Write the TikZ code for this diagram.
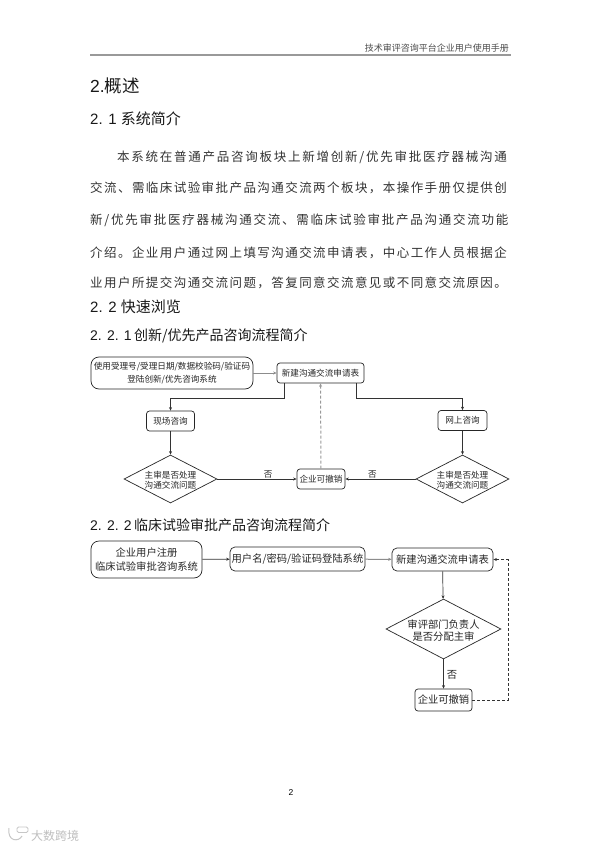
\documentclass[tikz,border=0pt]{standalone}
\usepackage{fontspec}
\usetikzlibrary{arrows.meta,shapes.geometric}
\setmainfont{Liberation Sans}
\newfontfamily\cjk{Noto Sans CJK SC}
\newcommand{\bodyline}[4]{\node[anchor=west,inner sep=0pt,text=black!80] (#1) at (#2) {\fontspec{Noto Sans CJK SC}[LetterSpace=#3]\fontsize{12.5}{14}\selectfont #4};}
\newcommand{\ztext}[3]{\makebox[0pt]{\smash{\raisebox{#1}{\begin{tabular}{@{}c@{}}#2\\#3\end{tabular}}}}}
\tikzset{
 x=1pt,y=-1pt,
 box/.style={draw=black!85,line width=.7pt,rounded corners=3pt,align=center,inner sep=0pt,font=\cjk\fontsize{8.6}{13}\selectfont,text=black!85},
 dia/.style={draw=black!85,line width=.7pt,diamond,inner sep=0pt,font=\cjk\fontsize{8.6}{13}\selectfont\renewcommand{\arraystretch}{.8},text=black!85},
 bigbox/.style={box,font=\cjk\fontsize{10.3}{14.5}\selectfont},
 bigdia/.style={dia,font=\cjk\fontsize{10.3}{12.5}\selectfont\renewcommand{\arraystretch}{.85},text=black!85},
 conn/.style={draw=black!80,line width=.7pt,-{Stealth[length=3.5pt,width=3pt]}},
 dconn/.style={conn,dash pattern=on 3pt off 2pt},
 lab/.style={inner sep=0pt,text=black!85},
 head/.style={anchor=west,inner sep=0pt,text=black!90},
}
\begin{document}
\begin{tikzpicture}
\useasboundingbox (0,0) rectangle (600,848);
\fill[white] (0,0) rectangle (600,848);
% header
\node[anchor=east,inner sep=0pt,text=black!70,font=\cjk\fontsize{9}{10}\selectfont] (hdr) at (509,48.5) {技术审评咨询平台企业用户使用手册};
\coordinate (rl) at (90,55.5); \coordinate (rr) at (511,55.5);
\draw[black!40,line width=2pt] (rl) -- (rr);
% headings
\node[head,font=\fontsize{17.5}{20}\selectfont] (h2) at (90,86) {2.{\cjk 概述}};
\node[head,font=\fontsize{15}{18}\selectfont] (h21) at (90,119) {2. 1 {\cjk 系统简介}};
\node[head,font=\fontsize{15}{18}\selectfont] (h22) at (90,307) {2. 2 {\cjk 快速浏览}};
\node[head,font=\fontsize{14}{18}\selectfont] (h221) at (90,336) {2. 2. 1\,{\cjk 创新/优先产品咨询流程简介}};
\node[head,font=\fontsize{14}{18}\selectfont] (h222) at (90,525) {2. 2. 2\,{\cjk 临床试验审批产品咨询流程简介}};
% body
\bodyline{l1}{117,157}{14}{本系统在普通产品咨询板块上新增创新/优先审批医疗器械沟通}
\bodyline{l2}{90,188}{11.5}{交流、需临床试验审批产品沟通交流两个板块，本操作手册仅提供创}
\bodyline{l3}{90,220}{14}{新/优先审批医疗器械沟通交流、需临床试验审批产品沟通交流功能}
\bodyline{l4}{90,253}{11.5}{介绍。企业用户通过网上填写沟通交流申请表，中心工作人员根据企}
\bodyline{l5}{90,283}{11.5}{业用户所提交沟通交流问题，答复同意交流意见或不同意交流原因。}
% diagram 1
\node[box,minimum width=162pt,minimum height=32pt,rounded corners=8pt] (a) at (172,373) {使用受理号/受理日期/数据校验码/验证码\\登陆创新/优先咨询系统};
\node[box,minimum width=87pt,minimum height=20pt] (b) at (320.5,373) {新建沟通交流申请表};
\node[box,minimum width=48pt,minimum height=20pt] (c) at (170.5,421) {现场咨询};
\node[box,minimum width=49pt,minimum height=20pt] (d) at (462.5,420.5) {网上咨询};
\node[dia,minimum width=93pt,minimum height=48pt,aspect=1.94] (e) at (170.5,479) {\ztext{-4.5pt}{主审是否处理}{沟通交流问题}};
\node[box,minimum width=48pt,minimum height=20pt] (f) at (321,479) {企业可撤销};
\node[dia,minimum width=93pt,minimum height=48pt,aspect=1.94] (g) at (462.5,479) {\ztext{-4.5pt}{主审是否处理}{沟通交流问题}};
\coordinate (bl) at (284,383); \coordinate (br) at (356,383);
\draw[conn,draw=black!45] (a) -- (b);
\draw[conn] (bl) -- (284,398) -| (c.north);
\draw[conn] (br) -- (356,398) -| (d.north);
\draw[conn] (c) -- (e);
\draw[conn] (d) -- (g);
\draw[conn] (e) -- node[lab,pos=.64,yshift=5pt,font=\cjk\fontsize{8.6}{10}\selectfont] (no1) {否} (f);
\draw[conn] (g) -- node[lab,pos=.615,yshift=5pt,font=\cjk\fontsize{8.6}{10}\selectfont] (no2) {否} (f);
\draw[dconn,draw=black!40,line width=1pt] (f) -- (b);
% diagram 2
\node[bigbox,minimum width=111pt,minimum height=37pt,rounded corners=8pt] (a2) at (146.5,559.5) {企业用户注册\\临床试验审批咨询系统};
\node[bigbox,minimum width=135pt,minimum height=24pt,rounded corners=5pt] (b2) at (297.5,559) {用户名/密码/验证码登陆系统};
\node[bigbox,minimum width=101pt,minimum height=23pt,rounded corners=5pt] (c2) at (442.5,559.5) {新建沟通交流申请表};
\node[bigdia,minimum width=115pt,minimum height=60pt,aspect=1.92] (d2) at (443.5,629) {\ztext{-5.5pt}{审评部门负责人}{是否分配主审}};
\node[bigbox,minimum width=57pt,minimum height=22pt] (e2) at (443.5,700) {企业可撤销};
\coordinate (tr) at (508,700); \coordinate (tt) at (508,559.5);
\draw[conn] (a2) -- (b2);
\draw[conn,draw=black!45,line width=1pt] (b2) -- (c2);
\draw[conn] (c2) -- (d2);
\draw[conn] (d2) -- node[lab,right=3pt,pos=.5,yshift=-1pt,font=\cjk\fontsize{10.3}{12}\selectfont] (no3) {否} (e2);
\draw[dconn] (e2) -- (tr) -- (tt) -- (c2);
% page number
\node[inner sep=0pt,font=\fontsize{8.5}{10}\selectfont] (pg) at (291,793) {2};
% watermark
\draw[black!22,line width=1pt] (9,828) .. controls (7,842) and (19,842) .. (22,836);
\draw[black!22,line width=.8pt,rounded corners=1.5pt] (17,827) rectangle (28,832.5);
\node[anchor=west,inner sep=0pt,text=black!25,font=\cjk\fontsize{12}{13}\selectfont] (wm) at (31,836) {大数跨境};
\end{tikzpicture}
\end{document}
